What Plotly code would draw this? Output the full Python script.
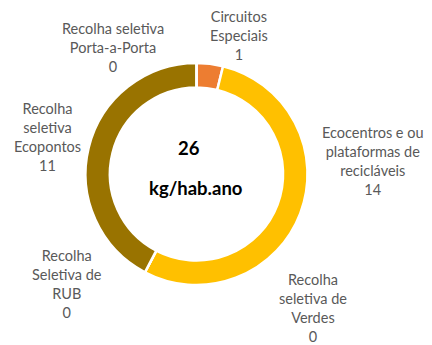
import plotly.graph_objects as go

# Recolha de resíduos por origem (kg/hab.ano)
categorias = [
    "Circuitos<br>Especiais",
    "Ecocentros e ou<br>plataformas de<br>recicláveis",
    "Recolha<br>seletiva de<br>Verdes",
    "Recolha<br>Seletiva de<br>RUB",
    "Recolha<br>seletiva<br>Ecopontos",
    "Recolha seletiva<br>Porta-a-Porta",
]
valores = [1, 14, 0, 0, 11, 0]
cores = ["#ED7D31", "#FFC000", "#A5A5A5", "#5B9BD5", "#997300", "#70AD47"]
total = sum(valores)
unidade = "kg/hab.ano"

W, H = 432, 345
cx, cy, r = 196.5, 174, 111  # centre and outer radius, pixels

fig = go.Figure(go.Pie(
    labels=[c.replace("<br>", " ") for c in categorias],
    values=valores,
    marker=dict(colors=cores, line=dict(color="white", width=2.5)),
    hole=0.78,
    sort=False,
    direction="clockwise",
    rotation=0,
    textinfo="none",
    hoverinfo="label+value",
    showlegend=False,
    domain=dict(x=[(cx - r) / W, (cx + r) / W],
                y=[(H - cy - r) / H, (H - cy + r) / H]),
))

# label anchor points (pixel centres) for each category
pos_rotulos = [(239, 35), (373, 161), (313, 308), (67, 284), (47, 137), (113, 48)]

fonte = dict(family="Lato, Liberation Sans, sans-serif", size=14.5, color="#595959")
anots = []
for cat, v, (px, py) in zip(categorias, valores, pos_rotulos):
    anots.append(dict(
        text=f"{cat}<br>{v}", x=px / W, y=1 - py / H, xref="paper", yref="paper",
        xanchor="center", yanchor="middle", showarrow=False, font=fonte, align="center",
    ))

centro = dict(family="Lato, Liberation Sans, sans-serif", size=18.5, color="#000000")
anots.append(dict(text=f"<b>{total}</b>", x=189 / W, y=1 - 148 / H, xref="paper", yref="paper",
                  xanchor="center", yanchor="middle", showarrow=False, font=centro))
anots.append(dict(text=f"<b>{unidade}</b>", x=196 / W, y=1 - 188 / H, xref="paper", yref="paper",
                  xanchor="center", yanchor="middle", showarrow=False, font=centro))

fig.update_layout(
    width=W, height=H,
    margin=dict(l=0, r=0, t=0, b=0),
    paper_bgcolor="white", plot_bgcolor="white",
    annotations=anots,
)

fig.write_html("out.html")
